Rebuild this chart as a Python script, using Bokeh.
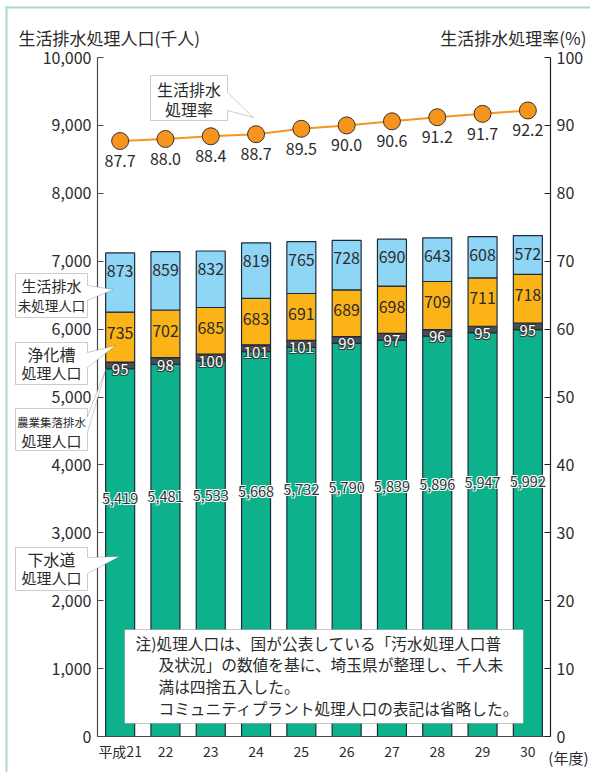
import numpy as np
from bokeh.plotting import figure
from bokeh.models import (Range1d, LinearAxis, FixedTicker, NumeralTickFormatter,
                          Label, PolyAnnotation, BoxAnnotation, GridBox)
from bokeh.core.properties import value
from bokeh.embed import file_html
from bokeh.resources import INLINE

# ---------------- data ----------------
years = ["平成21", "22", "23", "24", "25", "26", "27", "28", "29", "30"]
sewer = [5419, 5481, 5533, 5668, 5732, 5790, 5839, 5896, 5947, 5992]      # 下水道処理人口
agri = [95, 98, 100, 101, 101, 99, 97, 96, 95, 95]                         # 農業集落排水処理人口
septic = [735, 702, 685, 683, 691, 689, 698, 709, 711, 718]                # 浄化槽処理人口
untreated = [873, 859, 832, 819, 765, 728, 690, 643, 608, 572]             # 生活排水未処理人口
rate = [87.7, 88.0, 88.4, 88.7, 89.5, 90.0, 90.6, 91.2, 91.7, 92.2]        # 生活排水処理率
left_ticks = list(range(0, 10001, 1000))
right_ticks = list(range(0, 101, 10))

FONT = "Noto Sans CJK JP"
TXT = "#2b2b2b"
AX = "#4a4a4a"
C_SEWER = "#0db28d"
C_AGRI = "#4b4f55"
C_SEPTIC = "#fbb317"
C_UNTR = "#8fd6f6"
C_RATE = "#f7941d"
C_EDGE = "#1c2b3c"
C_MINT = "#a8dcc7"

W, H = 590, 772
FL, FR, FT, FB = 97, 550, 57, 736   # frame edges on the canvas

# ================= main chart =================
p = figure(width=W, height=H, x_range=Range1d(-0.5, 9.5), y_range=Range1d(0, 10000),
           output_backend="svg", toolbar_location=None,
           min_border_left=FL, min_border_right=W - FR,
           min_border_top=FT, min_border_bottom=H - FB)
p.extra_y_ranges = {"rate": Range1d(0, 100)}
p.grid.visible = False
p.outline_line_color = None
p.background_fill_color = "white"
p.border_fill_color = "white"

PXY = 10000.0 / (FB - FT)   # data units per pixel (left axis)
PXR = 100.0 / (FB - FT)     # data units per pixel (right axis)

xa = p.xaxis[0]
xa.ticker = FixedTicker(ticks=list(range(len(years))))
xa.major_label_overrides = {i: y for i, y in enumerate(years)}
xa.major_tick_in = 0
xa.major_tick_out = 0
xa.minor_tick_in = 0
xa.minor_tick_out = 0
xa.axis_line_color = AX
xa.axis_line_width = 1.2
xa.major_label_text_font = FONT
xa.major_label_text_font_size = "14px"
xa.major_label_text_color = TXT
xa.major_label_standoff = 4

ya = p.yaxis[0]
ya.ticker = FixedTicker(ticks=left_ticks)
ya.formatter = NumeralTickFormatter(format="0,0")
ya.major_tick_in = 6
ya.major_tick_out = 0
ya.minor_tick_in = 0
ya.minor_tick_out = 0
ya.axis_line_color = AX
ya.axis_line_width = 1.2
ya.major_tick_line_color = AX
ya.major_label_text_font = FONT
ya.major_label_text_font_size = "16px"
ya.major_label_text_color = TXT
ya.major_label_standoff = 6

ra = LinearAxis(y_range_name="rate", ticker=FixedTicker(ticks=right_ticks))
ra.major_tick_in = 6
ra.major_tick_out = 0
ra.minor_tick_in = 0
ra.minor_tick_out = 0
ra.axis_line_color = "#222222"
ra.axis_line_width = 1.2
ra.major_tick_line_color = "#222222"
ra.major_label_text_font = FONT
ra.major_label_text_font_size = "16px"
ra.major_label_text_color = TXT
ra.major_label_standoff = 6
p.add_layout(ra, "right")

# stacked bars
xs = np.arange(len(years))
s = np.array(sewer, float)
a = np.array(agri, float)
c = np.array(septic, float)
u = np.array(untreated, float)
b1 = s
b2 = s + a
b3 = s + a + c
b4 = s + a + c + u
BW = 0.64
p.vbar(x=xs, width=BW, bottom=0, top=b1, fill_color=C_SEWER, line_color=C_EDGE, line_width=1.2)
p.vbar(x=xs, width=BW, bottom=b1, top=b2, fill_color=C_AGRI, line_color=C_EDGE, line_width=1.2)
p.vbar(x=xs, width=BW, bottom=b2, top=b3, fill_color=C_SEPTIC, line_color=C_EDGE, line_width=1.2)
p.vbar(x=xs, width=BW, bottom=b3, top=b4, fill_color=C_UNTR, line_color=C_EDGE, line_width=1.2)

# bar value labels
p.text(x=xs, y=b4 - 18 * PXY, text=[str(v) for v in untreated], text_font=value(FONT),
       text_font_size="16px", text_color=TXT, text_align="center", text_baseline="middle")
p.text(x=xs, y=b3 - 20.5 * PXY, text=[str(v) for v in septic], text_font=value(FONT),
       text_font_size="16px", text_color=TXT, text_align="center", text_baseline="middle")

def halo_text(xv, yv, labels, size, fg, bg):
    for dx, dy in [(-1, -1), (1, -1), (-1, 1), (1, 1)]:
        p.text(x=xv, y=yv, text=labels, text_font=value(FONT), text_font_size=size,
               text_color=bg, x_offset=dx, y_offset=dy,
               text_align="center", text_baseline="middle")
    p.text(x=xv, y=yv, text=labels, text_font=value(FONT), text_font_size=size,
           text_color=fg, text_align="center", text_baseline="middle")

halo_text(xs, b1 + a / 2 - 4 * PXY, [str(v) for v in agri], "15px", "white", "#3a3a3a")
halo_text(xs, 0.436 * s + 1142, [f"{v:,}" for v in sewer], "14.5px", "#333333", "white")

# rate line
r = np.array(rate)
p.line(x=xs, y=r, y_range_name="rate", line_color=C_RATE, line_width=2)
p.scatter(x=xs, y=r, y_range_name="rate", marker="circle", size=17,
          fill_color=C_RATE, line_color="#333333", line_width=1)
p.text(x=xs, y=r - 20 * PXR, y_range_name="rate", text=[f"{v:.1f}" for v in rate],
       text_font=value(FONT), text_font_size="16px", text_color=TXT,
       text_align="center", text_baseline="middle")

# ================= overlay (callouts, titles, note, frame) =================
ov = figure(width=W, height=H, x_range=Range1d(0, W), y_range=Range1d(H, 0),
            output_backend="svg", toolbar_location=None,
            x_axis_location=None, y_axis_location=None,
            min_border_left=0, min_border_right=0, min_border_top=0, min_border_bottom=0)
ov.grid.visible = False
ov.outline_line_color = None
ov.background_fill_color = None
ov.border_fill_color = None
ov.background_fill_alpha = 0
ov.border_fill_alpha = 0
try:
    ov.frame_align = False
    p.frame_align = False
except AttributeError:
    pass

def lab(t, x, y, size, align="center"):
    ov.add_layout(Label(x=x, y=y, text=t, text_font=FONT, text_font_size=f"{size}px",
                        text_color=TXT, text_align=align, text_baseline="middle"))

callouts = [
    ([(150, 75), (227, 75), (227, 92), (253, 117), (227, 110), (227, 120), (150, 120)],
     [("生活排水", 188.5, 88, 16), ("処理率", 188.5, 108, 16)]),
    ([(15, 273), (87, 273), (87, 285), (113, 289), (87, 300), (87, 317), (15, 317)],
     [("生活排水", 51, 285, 15), ("未処理人口", 51, 304, 13.5)]),
    ([(15, 342), (87, 342), (87, 352), (115, 345), (87, 367), (87, 384), (15, 384)],
     [("浄化槽", 51, 353, 16), ("処理人口", 51, 372, 15)]),
    ([(15, 408), (87, 408), (87, 416), (106, 367), (87, 432), (87, 450), (15, 450)],
     [("農業集落排水", 51, 421, 11.5), ("処理人口", 51, 440, 15)]),
    ([(15, 547), (87, 547), (87, 557), (119, 556), (87, 573), (87, 590), (15, 590)],
     [("下水道", 51, 558, 16), ("処理人口", 51, 577, 15)]),
]
for pts, texts in callouts:
    ov.add_layout(PolyAnnotation(xs=[px for px, py in pts], ys=[py for px, py in pts],
                                 fill_color="white", fill_alpha=1.0,
                                 line_color="#555555", line_width=1))
    for t, cx, cy, fs in texts:
        lab(t, cx, cy, fs)

# note box
ov.add_layout(BoxAnnotation(left=124, right=523, top=629, bottom=723,
                            fill_color="white", fill_alpha=1.0,
                            line_color="#444444", line_width=1))
note = [("注)処理人口は、国が公表している「汚水処理人口普", 135, 643),
        ("及状況」の数値を基に、埼玉県が整理し、千人未", 158, 664),
        ("満は四捨五入した。", 158, 686),
        ("コミュニティプラント処理人口の表記は省略した。", 158, 708)]
for t, lx, ly in note:
    lab(t, lx, ly, 15.7, "left")

# titles
lab("生活排水処理人口(千人)", 18, 37, 17, "left")
lab("生活排水処理率(%)", 586, 37, 17, "right")
lab("(年度)", 588, 757, 15, "right")

# mint frame
ov.add_layout(BoxAnnotation(left=5, right=W, top=6, bottom=8, fill_color=C_MINT,
                            fill_alpha=1.0, line_color=None))
ov.add_layout(BoxAnnotation(left=5, right=7, top=6, bottom=H, fill_color=C_MINT,
                            fill_alpha=1.0, line_color=None))

layout = GridBox(children=[(p, 0, 0), (ov, 0, 0)])
open("out.html", "w").write(file_html(layout, INLINE))
